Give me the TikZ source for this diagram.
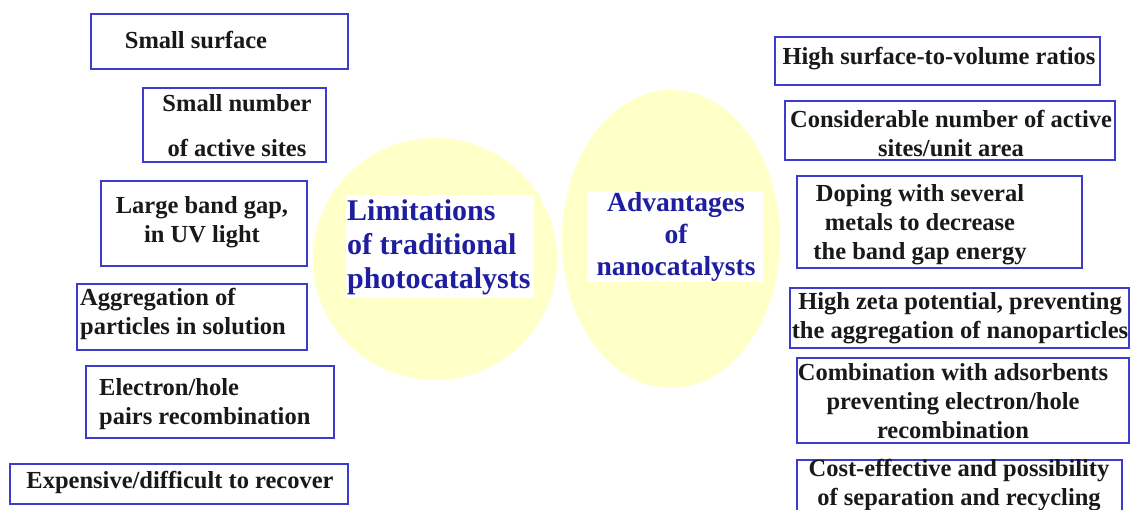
\documentclass[tikz,border=0pt]{standalone}
\usepackage{fontspec}
\setmainfont{Liberation Serif}
\definecolor{boxblue}{RGB}{60,60,205}
\definecolor{titleblue}{RGB}{30,30,160}
\definecolor{blobyellow}{RGB}{255,255,200}

\begin{document}
\begin{tikzpicture}[x=1pt,y=-1pt,
		frame/.style={draw=boxblue, line width=1.6pt},
		item/.style={font=\bfseries\fontsize{24.5}{29}\selectfont, text=black!90, align=center, inner sep=0pt},
		title/.style={font=\bfseries\fontsize{30}{34}\selectfont, text=titleblue, inner sep=0pt},
		blob/.style={fill=blobyellow}]
		\useasboundingbox (0,0) rectangle (1130,510);
		%%%%% circles %%%%%
		\fill[blob] (435,259) ellipse [x radius=122pt, y radius=121pt];
		\fill[blob] (671,239) ellipse [x radius=109pt, y radius=149pt];
		
		\fill[white] (346,195) rectangle (534,298);
		\node[title, align=left, anchor=west] (limits) at (347,247) {Limitations\\of traditional\\photocatalysts};
		
		\fill[white] (587,192) rectangle (763,282);
		\node[title, align=center, font=\bfseries\fontsize{27.5}{32}\selectfont] (advant) at (676,237) {Advantages\\of\\nanocatalysts};
		
		%%%%% left side %%%%%
		\draw[frame] (91,14) rectangle (348,69);
		\node[item] (surf) at (196,40) {Small surface};
		
		\draw[frame] (143,88) rectangle (326,162);
		\node[item, font=\bfseries\fontsize{24.5}{45}\selectfont] (sites) at (237,126) {Small number\\of active sites};
		
		\draw[frame] (101,181) rectangle (307,266);
		\node[item] (gap) at (202,222) {Large band gap,\\in UV light};
		
		\draw[frame] (77,284) rectangle (307,350);
		\node[item, align=left, anchor=west] (aggr) at (80,314) {Aggregation of\\particles in solution};
		
		\draw[frame] (86,366) rectangle (334,438);
		\node[item, align=left, anchor=west] (recomb) at (99,404) {Electron/hole\\pairs recombination};
		
		\draw[frame] (10,464) rectangle (348,504);
		\node[item] (cost) at (180,482) {Expensive/difficult to recover};
		
		%%%%% right side %%%%%
		\draw[frame] (775,37) rectangle (1100,85);
		\node[item] (ratio) at (939,59) {High surface-to-volume ratios};
		
		\draw[frame] (785,101) rectangle (1115,160);
		\node[item] (area) at (951,134) {Considerable number of active\\sites/unit area};
		
		\draw[frame] (797,176) rectangle (1082,268);
		\node[item] (doping) at (920,225) {Doping with several\\metals to decrease\\the band gap energy};
		
		\draw[frame] (790,288) rectangle (1129,348);
		\node[item] (zeta) at (960,318) {High zeta potential, preventing\\the aggregation of nanoparticles};
		
		\draw[frame] (797,358) rectangle (1129,443);
		\node[item] (adsorb) at (953,401) {Combination with adsorbents\\preventing electron/hole\\recombination};
		
		\draw[frame] (797,460) rectangle (1122,512);
		\node[item] (recycle) at (959,485) {Cost-effective and possibility\\of separation and recycling};
	\end{tikzpicture}
\end{document}
